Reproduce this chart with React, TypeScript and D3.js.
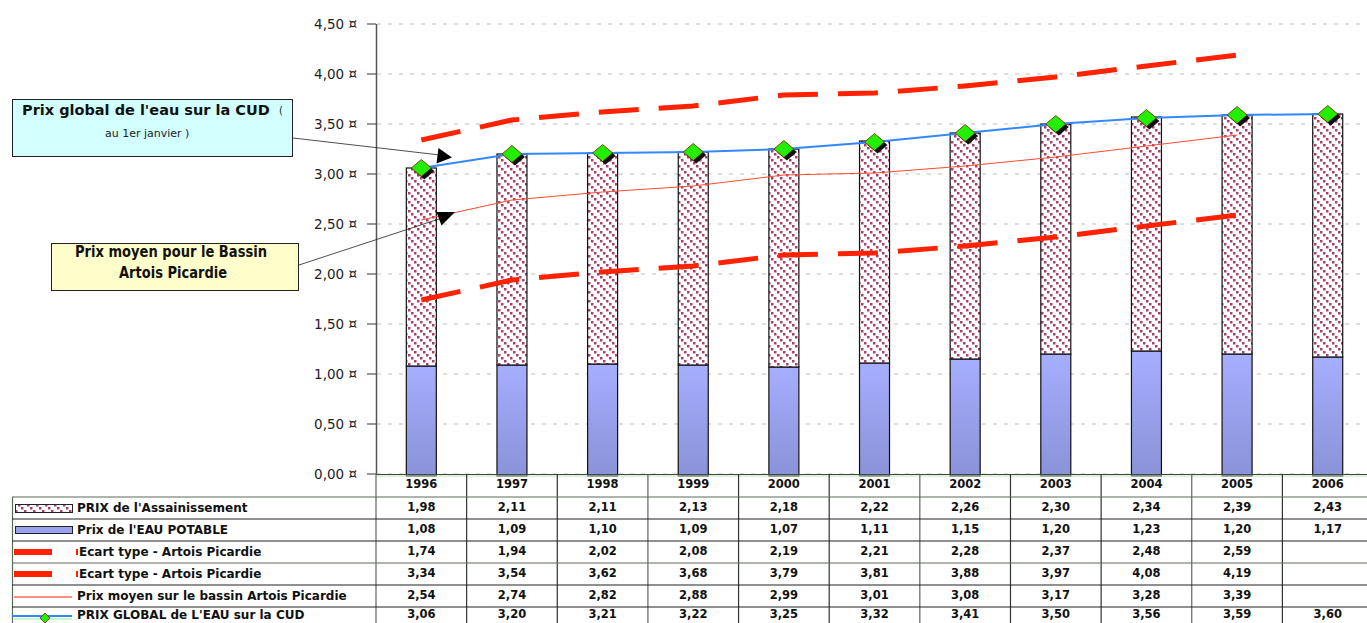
import React from "react";
import * as d3 from "d3";

// Prix de l'eau – CUD vs bassin Artois Picardie (€/m³)
const years = ["1996", "1997", "1998", "1999", "2000", "2001", "2002", "2003", "2004", "2005", "2006"];
const assainissement = [1.98, 2.11, 2.11, 2.13, 2.18, 2.22, 2.26, 2.30, 2.34, 2.39, 2.43];
const eauPotable = [1.08, 1.09, 1.10, 1.09, 1.07, 1.11, 1.15, 1.20, 1.23, 1.20, 1.17];
const ecartBas: (number | null)[] = [1.74, 1.94, 2.02, 2.08, 2.19, 2.21, 2.28, 2.37, 2.48, 2.59, null];
const ecartHaut: (number | null)[] = [3.34, 3.54, 3.62, 3.68, 3.79, 3.81, 3.88, 3.97, 4.08, 4.19, null];
const prixMoyen: (number | null)[] = [2.54, 2.74, 2.82, 2.88, 2.99, 3.01, 3.08, 3.17, 3.28, 3.39, null];
const prixGlobal = [3.06, 3.20, 3.21, 3.22, 3.25, 3.32, 3.41, 3.50, 3.56, 3.59, 3.60];
const yTicks = [0, 0.5, 1, 1.5, 2, 2.5, 3, 3.5, 4, 4.5];

const W = 1367;
const H = 623;
const FONT = "'DejaVu Sans', Verdana, sans-serif";
const fmt = (v: number) => v.toFixed(2).replace(".", ",");

const x = d3.scaleBand<string>().domain(years).range([376, 376 + 11 * 90.64]).padding(0);
const bw = x.bandwidth();
const cx = (yr: string) => (x(yr) as number) + bw / 2;
const y = d3.scaleLinear().domain([0, 4.5]).range([474, 24]);
const barW = 30;

const RED = "#ff2200";
const BLUE = "#3388ff";
const GREEN = "#22ee00";
const HATCH = "#a8406e";

const lineGen = d3
  .line<number | null>()
  .defined((d) => d !== null)
  .x((_, i) => cx(years[i]))
  .y((d) => y(d as number));

const diamond = (px: number, py: number) =>
  `M${px - 10},${py} L${px},${py - 8.5} L${px + 10},${py} L${px},${py + 8.5} Z`;

// table geometry
const rowTops = [497, 519, 541, 563, 585, 607];
const rowH = 22;
const tableRows: { label: string; values: (number | null)[]; key: string }[] = [
  { label: "PRIX de l'Assainissement", values: assainissement, key: "hatch" },
  { label: "Prix de l'EAU POTABLE", values: eauPotable, key: "blue" },
  { label: "Ecart type - Artois Picardie", values: ecartBas, key: "dash" },
  { label: "Ecart type - Artois Picardie", values: ecartHaut, key: "dash" },
  { label: "Prix moyen sur le bassin Artois Picardie", values: prixMoyen, key: "thin" },
  { label: "PRIX GLOBAL de L'EAU sur la CUD", values: prixGlobal, key: "global" },
];

function LegendKey({ kind, top }: { kind: string; top: number }) {
  const mid = top + rowH / 2;
  switch (kind) {
    case "hatch":
      return <rect x={15.5} y={mid - 3.5} width={57} height={8} fill="url(#hatch)" stroke="#222" strokeWidth={1} />;
    case "blue":
      return <rect x={15.5} y={mid - 3.5} width={57} height={7} fill="#9aa2f0" stroke="#222" strokeWidth={1} />;
    case "dash":
      return (
        <g fill={RED}>
          <rect x={14} y={mid - 3} width={38} height={6} />
          <rect x={76} y={mid - 3} width={2} height={6} />
        </g>
      );
    case "thin":
      return <line x1={14} x2={72} y1={mid + 1} y2={mid + 1} stroke={RED} strokeWidth={1} />;
    case "global":
      return (
        <g>
          <line x1={14} x2={72} y1={mid + 1} y2={mid + 1} stroke="#99ee99" strokeWidth={1} />
          <line x1={12} x2={72} y1={mid - 2} y2={mid - 2} stroke={BLUE} strokeWidth={2} />
          <path d={`M45,${mid - 5} L50,${mid} L45,${mid + 5} L40,${mid} Z`} fill={GREEN} stroke="#802000" strokeWidth={0.8} />
        </g>
      );
    default:
      return null;
  }
}

export default function App() {
  const colLines = d3.range(0, 12).map((k) => 376 + k * bw);
  return (
    <svg width={W} height={H} style={{ position: "absolute", left: 0, top: 0, background: "#fff" }} fontFamily={FONT}>
      <defs>
        <pattern id="hatch" patternUnits="userSpaceOnUse" width={9} height={9}>
          <rect width={9} height={9} fill="#fff" />
          <rect x={0} y={0} width={2.5} height={2.5} fill={HATCH} />
          <rect x={3} y={3} width={2.5} height={2.5} fill={HATCH} />
          <rect x={6} y={6} width={2.5} height={2.5} fill={HATCH} />
        </pattern>
        <linearGradient id="potable" x1="0" y1="0" x2="0" y2="1">
          <stop offset="0" stopColor="#a6aeff" />
          <stop offset="1" stopColor="#8a92d8" />
        </linearGradient>
      </defs>

      {/* grid */}
      {yTicks.map((t) => (
        <line key={t} x1={377} x2={W} y1={y(t)} y2={y(t)} stroke="#bdbdbd" strokeWidth={1} strokeDasharray="4,7" />
      ))}

      {/* stacked bars */}
      {years.map((yr, i) => {
        const bx = cx(yr) - barW / 2;
        const p = eauPotable[i];
        const a = assainissement[i];
        return (
          <g key={yr}>
            <rect x={bx} y={y(p)} width={barW} height={y(0) - y(p) + 2} fill="url(#potable)" stroke="#111" strokeWidth={1.2} />
            <rect x={bx} y={y(p + a)} width={barW} height={y(p) - y(p + a)} fill="url(#hatch)" stroke="#111" strokeWidth={1.2} />
          </g>
        );
      })}

      {/* y axis */}
      <line x1={376.5} x2={376.5} y1={y(4.5)} y2={y(0)} stroke="#555" strokeWidth={1.5} />
      {yTicks.map((t) => (
        <g key={t}>
          <line x1={367} x2={376} y1={y(t)} y2={y(t)} stroke="#333" strokeWidth={1} />
          <text x={357} y={y(t) + 5} textAnchor="end" fontSize={13.5} fill="#222">
            {fmt(t)} ¤
          </text>
        </g>
      ))}
      <line x1={376} x2={W} y1={474.5} y2={474.5} stroke="#444" strokeWidth={1} />
      <line x1={376} x2={W} y1={476} y2={476} stroke="#b8e8b8" strokeWidth={1} />

      {/* écart type lines */}
      <path d={lineGen(ecartHaut) ?? ""} fill="none" stroke={RED} strokeWidth={5} strokeDasharray="40,20" />
      <path d={lineGen(ecartBas) ?? ""} fill="none" stroke={RED} strokeWidth={5} strokeDasharray="40,20" />

      {/* prix moyen */}
      <path d={lineGen(prixMoyen) ?? ""} fill="none" stroke="#ff4a30" strokeWidth={1} />

      {/* prix global */}
      <path d={lineGen(prixGlobal) ?? ""} fill="none" stroke={BLUE} strokeWidth={2} />
      {prixGlobal.map((v, i) => {
        const px = cx(years[i]);
        const py = y(v);
        return (
          <g key={i}>
            <path d={diamond(px + 3, py + 3)} fill="#111" />
            <path d={diamond(px, py)} fill={GREEN} stroke="#802000" strokeWidth={0.8} />
          </g>
        );
      })}

      {/* callouts */}
      <g>
        <rect x={12.5} y={99.5} width={280} height={57} fill="#d2ffff" stroke="#222" strokeWidth={1} />
        <text x={22} y={115} fontSize={14.5} fontWeight="bold" fill="#111">
          Prix global de l'eau sur la CUD
        </text>
        <text x={279} y={114} fontSize={10} fill="#222">
          (
        </text>
        <text x={105} y={137} fontSize={11} fill="#222">
          au 1er janvier )
        </text>
        <line x1={293} y1={138} x2={440} y2={155} stroke="#222" strokeWidth={0.8} />
        <path d="M452,157.5 L436.5,163.5 L438.5,148 Z" fill="#000" />

        <rect x={51.5} y={243.5} width={247} height={47} fill="#ffffcc" stroke="#222" strokeWidth={1} />
        <text x={75} y={257} fontSize={15} fontWeight="bold" fill="#111" textLength={192} lengthAdjust="spacingAndGlyphs">
          Prix moyen pour le Bassin
        </text>
        <text x={119} y={278} fontSize={15} fontWeight="bold" fill="#111" textLength={108} lengthAdjust="spacingAndGlyphs">
          Artois Picardie
        </text>
        <line x1={299} y1={265} x2={442} y2={218} stroke="#222" strokeWidth={0.8} />
        <path d="M455,212 L441.5,225.5 L436.5,212 Z" fill="#000" />
      </g>

      {/* data table */}
      <g fontSize={11.5} fontWeight="bold" fill="#111">
        {years.map((yr) => (
          <text key={yr} x={cx(yr)} y={488} textAnchor="middle">
            {yr}
          </text>
        ))}
        {colLines.map((lx, k) => (
          <line key={k} x1={lx} x2={lx} y1={474} y2={H} stroke={k % 3 === 0 ? "#5a6a5a" : "#333"} strokeWidth={1.2} />
        ))}
        <line x1={12.5} x2={12.5} y1={497} y2={H} stroke="#5a6a5a" strokeWidth={1.2} />
        {rowTops.map((t, r) => (
          <line key={r} x1={12} x2={W} y1={t} y2={t} stroke={r % 3 === 0 ? "#5a6a5a" : "#222"} strokeWidth={1.2} />
        ))}
        {tableRows.map((row, r) => {
          const top = rowTops[r];
          const isDash = row.key === "dash";
          const base = r === 5 ? 619 : top + 14.5;
          return (
            <g key={r}>
              <LegendKey kind={row.key} top={top} />
              <text x={isDash ? 79 : 77} y={base} fontSize={12}>
                {row.label}
              </text>
              {row.values.map((v, i) =>
                v === null ? null : (
                  <text key={i} x={cx(years[i])} y={base - 1} textAnchor="middle">
                    {fmt(v)}
                  </text>
                )
              )}
            </g>
          );
        })}
      </g>
    </svg>
  );
}
